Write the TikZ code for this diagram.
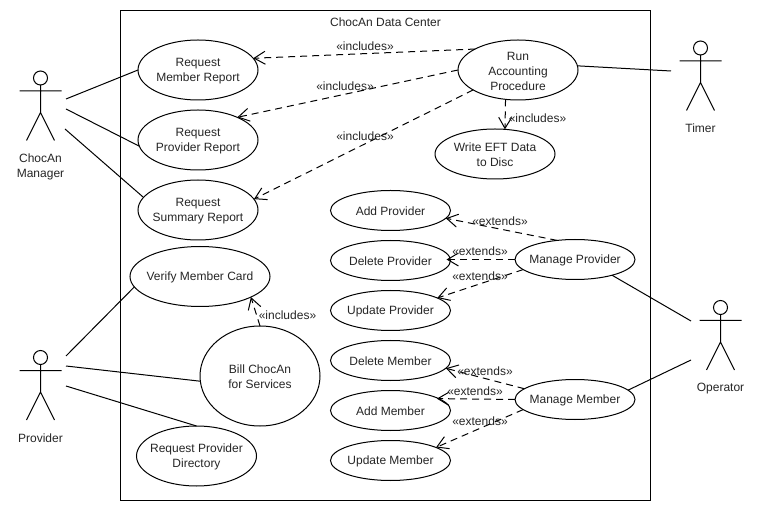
\documentclass[tikz,border=0pt]{standalone}
\usepackage{fontspec}
\setmainfont{Liberation Sans}
\usetikzlibrary{shapes.geometric,arrows.meta}
\tikzset{
  x=1pt,y=-1pt,
  every node/.style={font=\fontsize{12}{15}\selectfont,text=black!85,align=center},
  ct/.style={label={[inner sep=0pt,yshift=-1pt]center:#1}},
  usecase/.style={draw=black,line width=1pt,ellipse,inner sep=0pt,outer sep=0pt},
  big/.style={usecase,minimum width=120pt,minimum height=60pt},
  small/.style={usecase,minimum width=120pt,minimum height=40pt},
  assoc/.style={draw=black,line width=1pt},
  dep/.style={draw=black,line width=1pt,dash pattern=on 7pt off 5pt,-{Straight Barb[length=11pt,width=13pt,line width=1pt]}},
  deplabel/.style={inner sep=0pt},
  actorlabel/.style={inner sep=0pt},
  frame/.style={draw=black,line width=1pt},
  pics/actor/.style={code={
    \draw[line width=1pt] (0,0) circle (7pt);
    \draw[line width=1pt] (0,7) -- (0,34.5) (-21,13) -- (21,13) (-14,62.5) -- (0,34.5) -- (14,62.5);
  }}
}
\begin{document}
\begin{tikzpicture}
\useasboundingbox (0,0) rectangle (760,510);
\fill[white] (0,0) rectangle (760,510);
\node[frame,minimum width=530pt,minimum height=490pt,outer sep=0pt,inner sep=0pt] (center) at (385.5,255.5) {};
\node[inner sep=0pt] (title) at (385.5,22.5) {ChocAn Data Center};

\node[big,ct={Request\\Member Report}] (member) at (198,70) {};
\node[big,ct={Request\\Provider Report}] (prov) at (198,140) {};
\node[big,ct={Request\\Summary Report}] (summ) at (198,210) {};
\node[big,minimum width=140pt,ct={Verify Member Card}] (verify) at (200,276.5) {};
\node[big,minimum height=100pt,ct={Bill ChocAn\\for Services}] (bill) at (260,376) {};
\node[big,ct={Request Provider\\Directory}] (dir) at (196.5,456) {};
\node[big,ct={Run\\Accounting\\Procedure}] (run) at (518,70) {};
\node[big,minimum height=50pt,ct={Write EFT Data\\to Disc}] (eft) at (495,154) {};
\node[small,ct={Add Provider}] (addp) at (390.5,210.5) {};
\node[small,ct={Delete Provider}] (delp) at (390.5,260.5) {};
\node[small,ct={Update Provider}] (updp) at (390.5,310.5) {};
\node[small,ct={Delete Member}] (delm) at (390.5,360.5) {};
\node[small,ct={Add Member}] (addm) at (390.5,410.5) {};
\node[small,ct={Update Member}] (updm) at (390.5,460.5) {};
\node[small,ct={Manage Provider}] (mp) at (575,259.5) {};
\node[small,ct={Manage Member}] (mm) at (575,399.5) {};

\pic at (40.5,78) {actor};
\pic at (40.5,357.5) {actor};
\pic at (700.5,48) {actor};
\pic at (720.5,307.5) {actor};
\node[actorlabel] (lmgr) at (40.5,166.5) {ChocAn\\Manager};
\node[actorlabel] (lprov) at (40.5,438.5) {Provider};
\node[actorlabel] (ltimer) at (700.5,128.5) {Timer};
\node[actorlabel] (lop) at (720.5,388.5) {Operator};

\coordinate (m1) at (66,99);
\coordinate (m2) at (66,109);
\coordinate (m3) at (65,129);
\coordinate (p1) at (66,356);
\coordinate (p2) at (66,366);
\coordinate (p3) at (66,386);
\coordinate (t1) at (671,71);
\coordinate (o1) at (691,321);
\coordinate (o2) at (691,360);

\draw[assoc] (m1) -- (member.west);
\draw[assoc] (m2) -- (prov.186);
\draw[assoc] (m3) -- (summ.167);
\draw[assoc] (p1) -- (verify.189);
\draw[assoc] (p2) -- (bill.185);
\draw[assoc] (p3) -- (dir.north);
\draw[assoc] (t1) -- (run.4);
\draw[assoc] (o1) -- (mp.-23);
\draw[assoc] (o2) -- (mm.10);

\draw[dep] (run.154) -- (member.12);
\draw[dep] (run.west) -- (prov.30);
\draw[dep] (run.204) -- (summ.11);
\draw[dep] (run.247) -- (eft.68);
\draw[dep] (bill.north) -- (verify.-22);
\draw[dep] (mp.133) -- (addp.-8);
\draw[dep] (mp.west) -- ([xshift=-4pt,yshift=1pt]delp.east);
\draw[dep] (mp.191) -- (updp.15);
\draw[dep] (mm.168) -- (delm.-8);
\draw[dep] (mm.west) -- ([xshift=-3pt,yshift=0.5pt]addm.13);
\draw[dep] (mm.191) -- (updm.16);

\node[deplabel] (i1) at (365,46) {«includes»};
\node[deplabel] (i2) at (345,86) {«includes»};
\node[deplabel] (i3) at (365,136) {«includes»};
\node[deplabel] (i4) at (537.5,118) {«includes»};
\node[deplabel] (i5) at (287.5,315) {«includes»};
\node[deplabel] (e1) at (500,221) {«extends»};
\node[deplabel] (e2) at (480,251) {«extends»};
\node[deplabel] (e3) at (480,276) {«extends»};
\node[deplabel] (e4) at (485,371) {«extends»};
\node[deplabel] (e5) at (475,391) {«extends»};
\node[deplabel] (e6) at (480,421) {«extends»};
\end{tikzpicture}
\end{document}
